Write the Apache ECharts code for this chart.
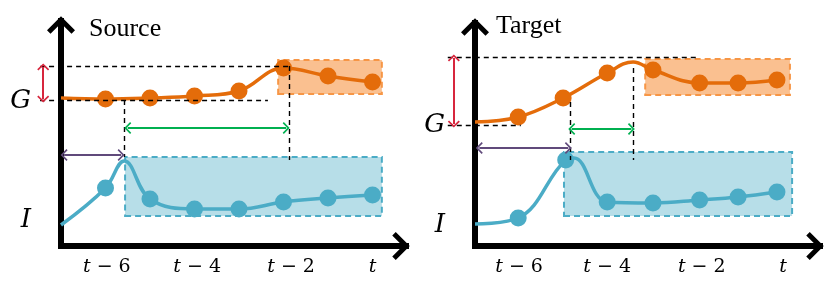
<!DOCTYPE html>
<html><head><meta charset="utf-8">
<script src="https://cdn.jsdelivr.net/npm/echarts@6/dist/echarts.min.js"></script>
<style>html,body{margin:0;padding:0;background:#fff}#c{width:830px;height:290px}</style>
</head><body><div id="c"></div>
<script>
// ---- text ----
const panelTitles = ['Source', 'Target'];
const tickLabels = ['t − 6', 't − 4', 't − 2', 't'];
const srcTickPos = [1.03, 3.06, 5.17, 7.0];
const tgtTickPos = [1.02, 3.06, 5.25, 7.13];
const axisNames = ['G', 'I'];
const srcAxisNamePos = [145, 26];
const tgtAxisNamePos = [121, 21];

// ---- Source panel series ----
const srcOrangeX = [0, 1, 2, 3, 4, 5, 6, 7];
const srcOrangeY = [148, 147, 148, 150, 155, 178, 170, 164];
const srcOrangeDot = [0, 1, 1, 1, 1, 1, 1, 1];
const srcBlueX = [0, 1, 1.42, 2, 3, 4, 5, 6, 7];
const srcBlueY = [21, 58, 85, 47, 37, 37, 44, 48, 51];
const srcBlueDot = [0, 1, 0, 1, 1, 1, 1, 1, 1];

// ---- Target panel series ----
const tgtOrangeX = [0, 1, 2.04, 3.06, 3.66, 4.12, 5.2, 6.09, 6.99];
const tgtOrangeY = [124, 129, 148, 173, 184, 176, 163, 163, 166];
const tgtOrangeDot = [0, 1, 1, 1, 0, 1, 1, 1, 1];
const tgtBlueX = [0, 1, 2.1, 2.29, 3.06, 4.12, 5.2, 6.09, 6.99];
const tgtBlueY = [22, 28, 86, 88, 44, 43, 46, 49, 54];
const tgtBlueDot = [0, 1, 1, 0, 1, 1, 1, 1, 1];

// ---- boxes [x1, y1, x2, y2] ----
const srcOrangeBox = [4.88, 152, 7.21, 186];
const srcBlueBox = [1.44, 30, 7.21, 89];
const tgtOrangeBox = [3.94, 151, 7.29, 187];
const tgtBlueBox = [2.06, 30, 7.34, 94];

// ---- dashed guides and double arrows [x1, y1, x2, y2] ----
const srcGuides = [[-0.47, 180, 5.12, 180], [-0.47, 146, 4.65, 146], [1.42, 146, 1.42, 89], [5.12, 180, 5.12, 86]];
const tgtGuides = [[-0.63, 189, 5.16, 189], [-0.63, 121, 1.06, 121], [2.2, 144, 2.2, 86], [3.66, 178, 3.66, 86]];
const srcRed = [-0.4, 179, -0.4, 147];
const srcGreen = [1.5, 118, 5.06, 118];
const srcPurple = [0.07, 91, 1.35, 91];
const tgtRed = [-0.49, 188, -0.49, 122];
const tgtGreen = [2.24, 117, 3.62, 117];
const tgtPurple = [0.1, 98, 2.16, 98];

// ---- styling ----
const ORANGE = '#E46C0A', ORANGE_FILL = '#FAC090', ORANGE_EDGE = '#F79646';
const BLUE = '#4BACC6', BLUE_FILL = '#B7DEE8';
const RED = '#D7263D', GREEN = '#00B050', PURPLE = '#604A7B';
const AX_ARROW = 'path://M14,0 L28,14 L24.5,17.5 L14,7 L3.5,17.5 L0,14 Z';
const THIN_ARROW = 'path://M6,0 L12,6 L10.8,7.2 L6,2.4 L1.2,7.2 L0,6 Z';
const MATH = 'DejaVu Serif';
const DMIN = -0.8;

const panels = [
  { x0: 61, unit: 44.5, axisY: 246, lineTop: 18, lineEnd: 406, title: panelTitles[0], titleLeft: 89, titleTop: 16,
    ticks: srcTickPos, names: srcAxisNamePos,
    orange: [srcOrangeX, srcOrangeY, srcOrangeDot], blue: [srcBlueX, srcBlueY, srcBlueDot],
    oBox: srcOrangeBox, bBox: srcBlueBox, guides: srcGuides, red: srcRed, green: srcGreen, purple: srcPurple },
  { x0: 475, unit: 43.2, axisY: 246, lineTop: 20, lineEnd: 820, title: panelTitles[1], titleLeft: 496, titleTop: 13,
    ticks: tgtTickPos, names: tgtAxisNamePos,
    orange: [tgtOrangeX, tgtOrangeY, tgtOrangeDot], blue: [tgtBlueX, tgtBlueY, tgtBlueDot],
    oBox: tgtOrangeBox, bBox: tgtBlueBox, guides: tgtGuides, red: tgtRed, green: tgtGreen, purple: tgtPurple }
];

const grid = [], xAxis = [], yAxis = [], series = [], title = [];

function seg(s) { return [{ coord: [s[0], s[1]] }, { coord: [s[2], s[3]] }]; }

panels.forEach((p, i) => {
  const h = p.axisY - p.lineTop;
  const xmax = (p.lineEnd - p.x0) / p.unit;
  const dLeft = p.x0 + DMIN * p.unit;
  grid.push({ left: p.x0, top: p.lineTop, width: p.lineEnd - p.x0, height: h, containLabel: false, outerBoundsMode: 'none' });
  grid.push({ left: dLeft, top: p.lineTop, width: p.lineEnd - dLeft, height: h, containLabel: false, outerBoundsMode: 'none' });
  const gA = i * 2, gD = i * 2 + 1;

  xAxis.push({
    type: 'value', gridIndex: gA, min: 0, max: xmax,
    axisLine: { show: true, onZero: false, symbol: ['none', AX_ARROW], symbolSize: [28, 22], symbolOffset: [0, -5],
      lineStyle: { color: '#000', width: 6, cap: 'square' } },
    axisTick: { show: false }, splitLine: { show: false },
    axisLabel: {
      show: true, customValues: p.ticks, margin: 12,
      formatter: v => {
        const k = p.ticks.findIndex(t => Math.abs(t - v) < 1e-6);
        const s = k >= 0 ? tickLabels[k] : '';
        return s === 't' ? '{t|t}' : '{t|t}{n|' + s.slice(1) + '}';
      },
      rich: {
        t: { fontFamily: MATH, fontStyle: 'italic', fontSize: 19, color: '#000' },
        n: { fontFamily: MATH, fontSize: 19, color: '#000' }
      }
    }
  });
  xAxis.push({ type: 'value', gridIndex: gD, min: DMIN, max: xmax, show: false });

  yAxis.push({
    type: 'value', gridIndex: gA, min: 0, max: h,
    axisLine: { show: true, onZero: false, symbol: ['none', AX_ARROW], symbolSize: [28, 20], symbolOffset: [0, -7],
      lineStyle: { color: '#000', width: 6, cap: 'butt' } },
    axisTick: { show: false }, splitLine: { show: false },
    axisLabel: {
      show: true, customValues: p.names, margin: 30,
      formatter: v => {
        const k = p.names.findIndex(t => Math.abs(t - v) < 1e-6);
        return k >= 0 ? axisNames[k] : '';
      },
      fontFamily: MATH, fontStyle: 'italic', fontSize: 26, color: '#000'
    }
  });
  yAxis.push({ type: 'value', gridIndex: gD, min: 0, max: h, show: false });

  const xi = i * 2 + 1, yi = i * 2 + 1;
  const base = { type: 'line', xAxisIndex: xi, yAxisIndex: yi, data: [], silent: true };

  [[p.oBox, ORANGE_FILL, ORANGE_EDGE], [p.bBox, BLUE_FILL, BLUE]].forEach(b => {
    series.push(Object.assign({}, base, {
      z: 1,
      markArea: {
        silent: true, label: { show: false },
        itemStyle: { color: b[1], borderColor: b[2], borderWidth: 2, borderType: [6, 4] },
        data: [[{ coord: [b[0][0], b[0][1]] }, { coord: [b[0][2], b[0][3]] }]]
      }
    }));
  });

  series.push(Object.assign({}, base, {
    z: 2,
    markLine: {
      silent: true, symbol: ['none', 'none'], label: { show: false },
      lineStyle: { color: '#000', width: 1.4, type: [5, 4] },
      emphasis: { disabled: true },
      data: p.guides.map(seg)
    }
  }));

  [[p.red, RED], [p.green, GREEN], [p.purple, PURPLE]].forEach(a => {
    series.push(Object.assign({}, base, {
      z: 2,
      markLine: {
        silent: true, symbol: [THIN_ARROW, THIN_ARROW], symbolSize: [12, 7], label: { show: false },
        lineStyle: { color: a[1], width: 2, type: 'solid' },
        emphasis: { disabled: true },
        data: [seg(a[0])]
      }
    }));
  });

  [[p.orange, ORANGE], [p.blue, BLUE]].forEach(c => {
    const [xs, ys, dots] = c[0];
    series.push({
      type: 'line', xAxisIndex: xi, yAxisIndex: yi, z: 3, silent: true,
      smooth: 0.4, showSymbol: true, showAllSymbol: true, symbolSize: 17,
      lineStyle: { color: c[1], width: 3.5 },
      itemStyle: { color: c[1], borderWidth: 0 },
      data: xs.map((x, k) => ({ value: [x, ys[k]], symbol: dots[k] ? 'circle' : 'none' }))
    });
  });

  title.push({
    text: p.title, left: p.titleLeft, top: p.titleTop, padding: 0,
    textStyle: { fontFamily: 'Liberation Serif', fontSize: 26, fontWeight: 'normal', color: '#000' }
  });
});

const chart = echarts.init(document.getElementById('c'), null, { renderer: 'canvas' });
chart.setOption({ animation: false, backgroundColor: '#fff', title, grid, xAxis, yAxis, series });
</script>
</body></html>
